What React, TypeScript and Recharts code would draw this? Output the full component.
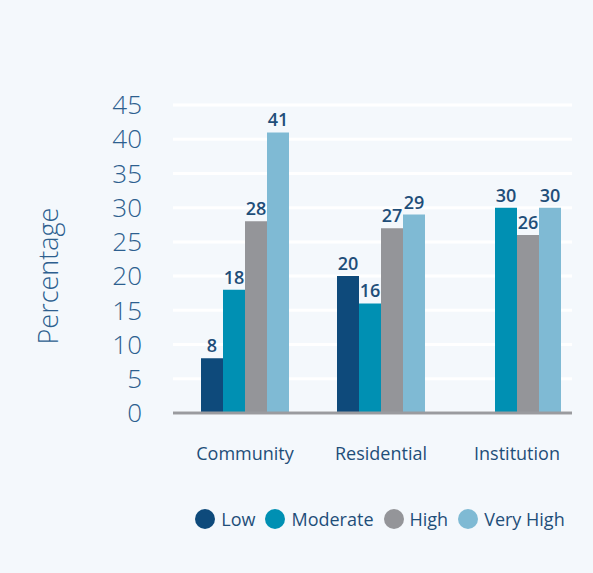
import React from 'react';
import { BarChart, Bar, XAxis, YAxis, CartesianGrid, Legend, LabelList } from 'recharts';

const categories = ['Community', 'Residential', 'Institution'];
const low = [8, 20, null];
const moderate = [18, 16, 30];
const high = [28, 27, 26];
const veryHigh = [41, 29, 30];
const yTicks = [0, 5, 10, 15, 20, 25, 30, 35, 40, 45];

const data = categories.map((name, i) => ({
    name,
    low: low[i],
    moderate: moderate[i],
    high: high[i],
    veryHigh: veryHigh[i],
}));

const FONT = '"Open Sans", sans-serif';
const NAVY = '#1f4e79';

const series = [
    { key: 'low', name: 'Low', color: '#0e4a7b' },
    { key: 'moderate', name: 'Moderate', color: '#0090b3' },
    { key: 'high', name: 'High', color: '#949599' },
    { key: 'veryHigh', name: 'Very High', color: '#7fbad4' },
];

const fmt = (v: any) => (v == null ? '' : v);

const LegendContent = () => (
    <div style={{ display: 'flex', justifyContent: 'center', alignItems: 'center', fontFamily: FONT, fontSize: 18, color: NAVY }}>
        {series.map((s) => (
            <div key={s.key} style={{ display: 'flex', alignItems: 'center', marginRight: 10 }}>
                <span style={{ width: 20, height: 20, borderRadius: 10, background: s.color, marginRight: 6, display: 'inline-block' }} />
                <span>{s.name}</span>
            </div>
        ))}
    </div>
);

export default function App() {
    return (
        <div style={{ position: 'absolute', left: 0, top: 0, width: 593, height: 573, background: '#f4f8fc', fontFamily: FONT }}>
            <BarChart
                width={593}
                height={573}
                data={data}
                margin={{ top: 105, right: 21, left: 0, bottom: 130 }}
                barGap={0}
                barSize={22}
            >
                <CartesianGrid vertical={false} stroke="#ffffff" strokeWidth={3} />
                <XAxis
                    dataKey="name"
                    height={30}
                    padding={{ left: 4, right: -13 }}
                    axisLine={{ stroke: '#9a9b9f', strokeWidth: 3 }}
                    tickLine={false}
                    tickSize={0}
                    tickMargin={34}
                    tick={{ fill: NAVY, fontSize: 18, fontFamily: FONT }}
                />
                <YAxis
                    width={173}
                    domain={[0, 45]}
                    ticks={yTicks}
                    interval={0}
                    axisLine={false}
                    tickLine={false}
                    tickSize={0}
                    tickMargin={31}
                    tick={{ fill: '#2d5f8f', fontSize: 26, fontFamily: FONT, fontWeight: 300 }}
                    label={{
                        content: () => (
                            <text
                                x={47}
                                y={276}
                                transform="rotate(-90 47 276)"
                                textAnchor="middle"
                                dominantBaseline="central"
                                fill="#2d5f8f"
                                fontSize={27}
                                fontWeight={300}
                                fontFamily={FONT}
                            >
                                Percentage
                            </text>
                        ),
                    }}
                />
                <Legend
                    verticalAlign="middle"
                    align="center"
                    content={<LegendContent />}
                    wrapperStyle={{ top: 507, left: 105, width: 560 }}
                />
                {series.map((s) => (
                    <Bar key={s.key} dataKey={s.key} name={s.name} fill={s.color} isAnimationActive={false}>
                        <LabelList
                            dataKey={s.key}
                            position="top"
                            formatter={fmt}
                            fill={NAVY}
                            fontSize={18}
                            fontWeight={600}
                            fontFamily={FONT}
                            offset={6}
                        />
                    </Bar>
                ))}
            </BarChart>
        </div>
    );
}
